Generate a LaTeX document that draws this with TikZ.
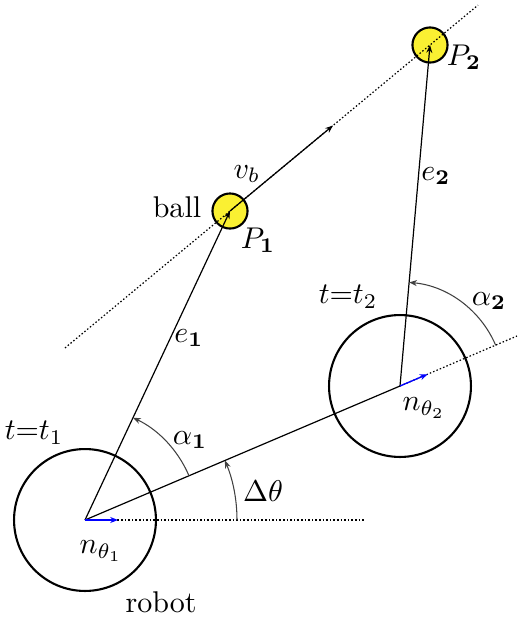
\documentclass[tikz,border=0pt]{standalone}
\usetikzlibrary{arrows.meta,calc}
\begin{document}
\begin{tikzpicture}[x=0.3333pt,y=0.3333pt,
  robotc/.style={circle,draw,line width=0.7pt,minimum size=47.3pt,inner sep=0pt},
  ballc/.style={circle,draw,line width=0.7pt,fill={rgb,255:red,250;green,240;blue,50},minimum size=11.7pt,inner sep=0pt},
  thinline/.style={line width=0.4pt},
  dotline/.style={line width=0.4pt,dash pattern=on 0.5pt off 0.7pt},
  arcline/.style={line width=0.35pt,black!75},
  tip/.style={-{Stealth[length=2.6pt,width=2pt]}},
  bluearr/.style={line width=0.45pt,blue,-{Stealth[length=2.6pt,width=2pt]}},
  lbl/.style={inner sep=0pt}]
\useasboundingbox (0,0) rectangle (520,-618);
% robots and balls
\node[robotc] (R1) at (85,-520) {};
\node[robotc] (R2) at (400,-386) {};
\node[ballc] (P1) at (230,-211) {};
\node[ballc] (P2) at (430,-45) {};
% helper coordinates
\coordinate (bs) at ($(P2.center)!1.825!(P1.center)$);
\coordinate (be) at ($(P1.center)!1.24!(P2.center)$);
\coordinate (vb) at ($(P1.center)!0.515!(P2.center)$);
\coordinate (hx) at (365,-520);
\coordinate (lx) at (517,-336);
\coordinate (n1) at (118,-520);
\coordinate (n2) at ($(R2.center)!30pt/3!(lx)$);
% ball path
\draw[dotline] (bs) -- (be);
\draw[thinline,tip] (P1.center) -- (vb);
% e vectors
\draw[thinline,tip] (R1.center) -- (P1.center);
\draw[thinline,tip] (R2.center) -- (P2.center);
% robot heading line
\draw[thinline] (R1.center) -- (R2.center);
\draw[dotline] (R2.center) -- (lx);
\draw[dotline] (R1.center) -- (hx);
% normals
\draw[bluearr] (R1.center) -- (n1);
\draw[bluearr] (R2.center) -- (n2);
% arcs
\draw[arcline,tip] ($(R1.center)+(0:152)$) arc[start angle=0,end angle=23.04,radius=152];
\draw[arcline,tip] ($(R1.center)+(23.04:113)$) arc[start angle=23.04,end angle=64.86,radius=113];
\draw[arcline,tip] ($(R2.center)+(23.04:104)$) arc[start angle=23.04,end angle=84.97,radius=104];
% labels
\node[lbl] (lball) at (177,-207) {ball};
\node[lbl] (lvb) at (247,-174) {$v_b$};
\node[lbl] (lP1) at (258,-240) {$P_{\mathbf{1}}$};
\node[lbl] (lP2) at (464,-57) {$P_{\mathbf{2}}$};
\node[lbl] (le1) at (189,-338) {$e_{\mathbf{1}}$};
\node[lbl] (le2) at (436,-176) {$e_{\mathbf{2}}$};
\node[lbl] (la1) at (190,-440) {$\alpha_{\mathbf{1}}$};
\node[lbl] (la2) at (489,-301) {$\alpha_{\mathbf{2}}$};
\node[lbl] (ldt) at (263,-491) {$\Delta\theta$};
\node[lbl] (ln1) at (101,-551) {$n_{\theta_1}$};
\node[lbl] (ln2) at (424,-408) {$n_{\theta_2}$};
\node[lbl] (lt1) at (34,-433) {$t{=}t_1$};
\node[lbl] (lt2) at (348,-297) {$t{=}t_2$};
\node[lbl] (lrob) at (161,-602) {robot};
\end{tikzpicture}
\end{document}
